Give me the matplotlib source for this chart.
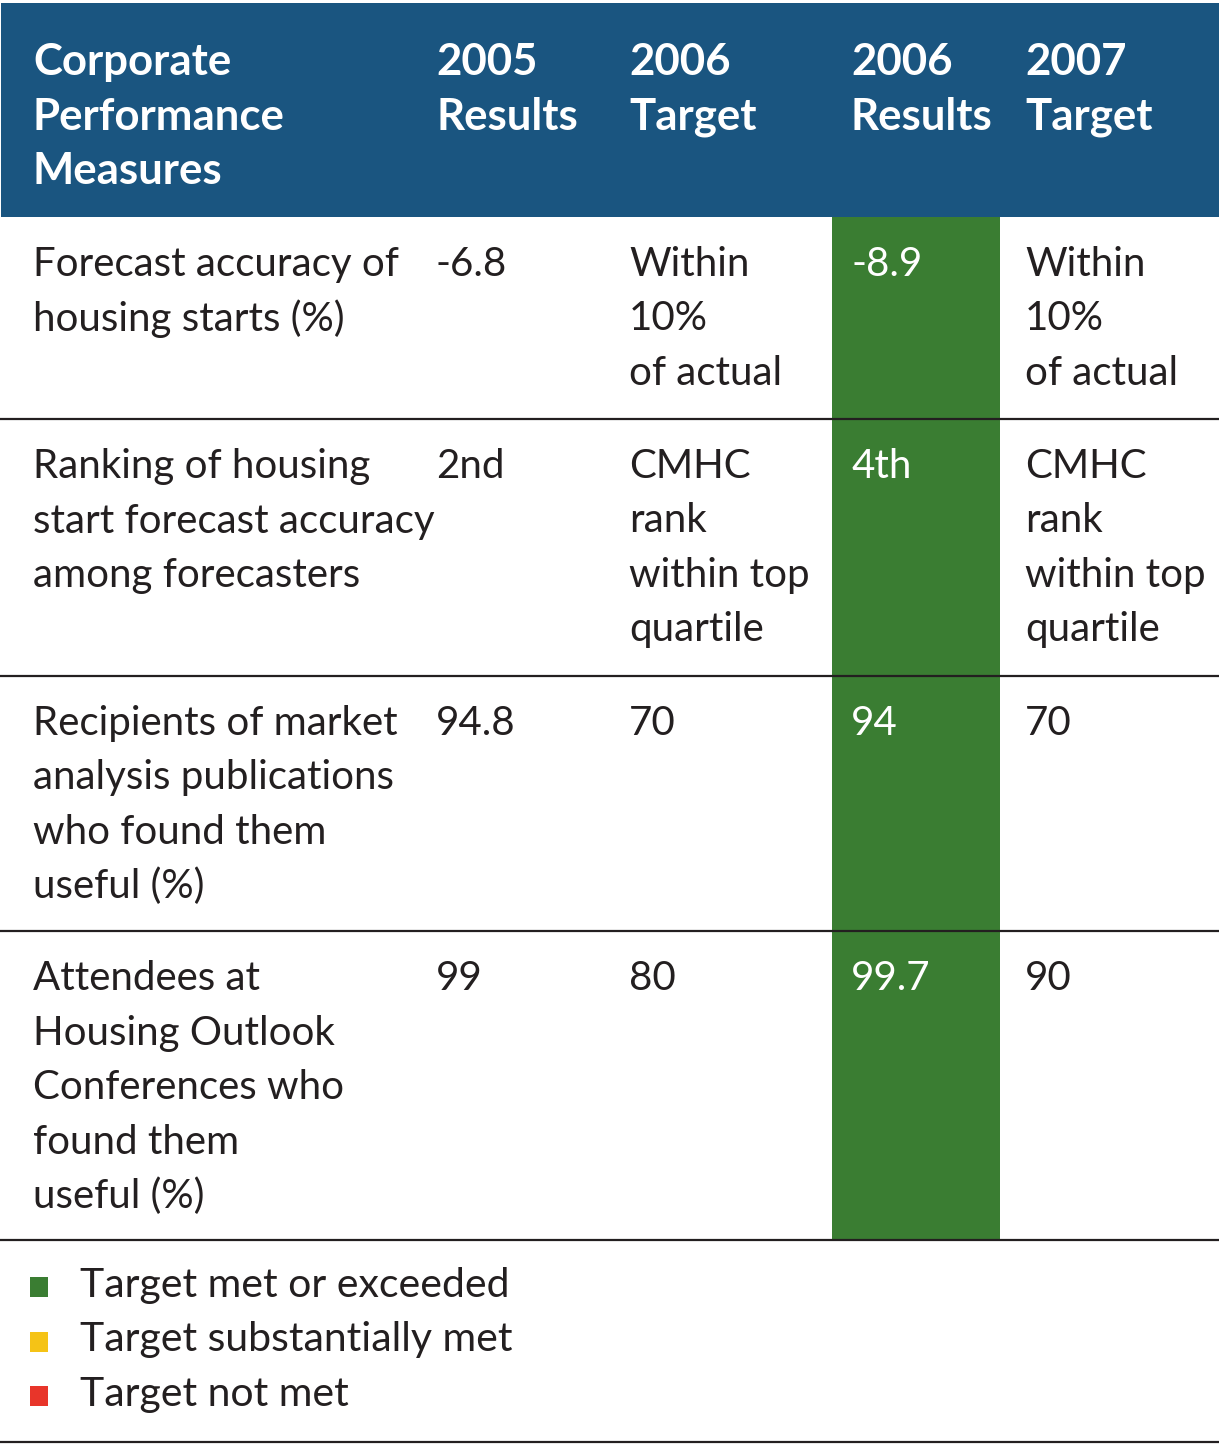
import matplotlib
matplotlib.use("Agg")
import matplotlib.pyplot as plt
from matplotlib.patches import Rectangle

# ---- data ----
header_measures = ["Corporate", "Performance", "Measures"]
header_2005_results = ["2005", "Results"]
header_2006_target = ["2006", "Target"]
header_2006_results = ["2006", "Results"]
header_2007_target = ["2007", "Target"]

measures = [
    ["Forecast accuracy of", "housing starts (%)"],
    ["Ranking of housing", "start forecast accuracy", "among forecasters"],
    ["Recipients of market", "analysis publications", "who found them", "useful (%)"],
    ["Attendees at", "Housing Outlook", "Conferences who", "found them", "useful (%)"],
]
results_2005 = [["-6.8"], ["2nd"], ["94.8"], ["99"]]
target_2006 = [["Within", "10%", "of actual"], ["CMHC", "rank", "within top", "quartile"], ["70"], ["80"]]
results_2006 = [["-8.9"], ["4th"], ["94"], ["99.7"]]
target_2007 = [["Within", "10%", "of actual"], ["CMHC", "rank", "within top", "quartile"], ["70"], ["90"]]

legend_labels = ["Target met or exceeded", "Target substantially met", "Target not met"]
legend_colors = ["#3a7d32", "#f5c316", "#e8352a"]

# ---- layout ----
W, H = 1219, 1446
fig = plt.figure(figsize=(W / 100, H / 100), dpi=100)
ax = fig.add_axes([0, 0, 1, 1])
ax.set_xlim(0, W)
ax.set_ylim(H, 0)
ax.axis("off")

HEADER_BLUE = "#1a5580"
GREEN = "#3a7d32"
TEXT = "#231f20"
FONT = "Lato"

col_x = [33, 436, 629, 851, 1025]
row_tops = [217, 419, 676, 931]
row_bottom = 1240
line_h = 54.5

# header band
ax.add_patch(Rectangle((1, 3), W - 1, 214, facecolor=HEADER_BLUE, edgecolor="none"))
# green results column
ax.add_patch(Rectangle((832, 217), 168, row_bottom - 217, facecolor=GREEN, edgecolor="none"))

headers = [header_measures, header_2005_results, header_2006_target,
           header_2006_results, header_2007_target]
for x, lines in zip(col_x, headers):
    for i, t in enumerate(lines):
        ax.text(x, 75 + i * line_h, t, color="white", fontsize=31.5, fontweight="bold",
                family=FONT, va="baseline", ha="left")

columns = [measures, results_2005, target_2006, results_2006, target_2007]
for c, (x, col) in enumerate(zip(col_x, columns)):
    for r, cell in enumerate(col):
        for i, t in enumerate(cell):
            color = "white" if c == 3 else TEXT
            ax.text(x, row_tops[r] + 59 + i * line_h, t, color=color, fontsize=29,
                    family=FONT, va="baseline", ha="left")

# horizontal rules
for y in row_tops[1:] + [row_bottom, 1442]:
    ax.plot([0, W], [y, y], color=TEXT, lw=1.6, solid_capstyle="butt")

# legend
for i, (lab, colr) in enumerate(zip(legend_labels, legend_colors)):
    yb = 1297 + i * 54.5
    ax.add_patch(Rectangle((30, yb - 20), 18, 20, facecolor=colr, edgecolor="none"))
    ax.text(80, yb, lab, color=TEXT, fontsize=29.5, family=FONT,
            va="baseline", ha="left")

fig.savefig("out.png", dpi=100, facecolor="white")
